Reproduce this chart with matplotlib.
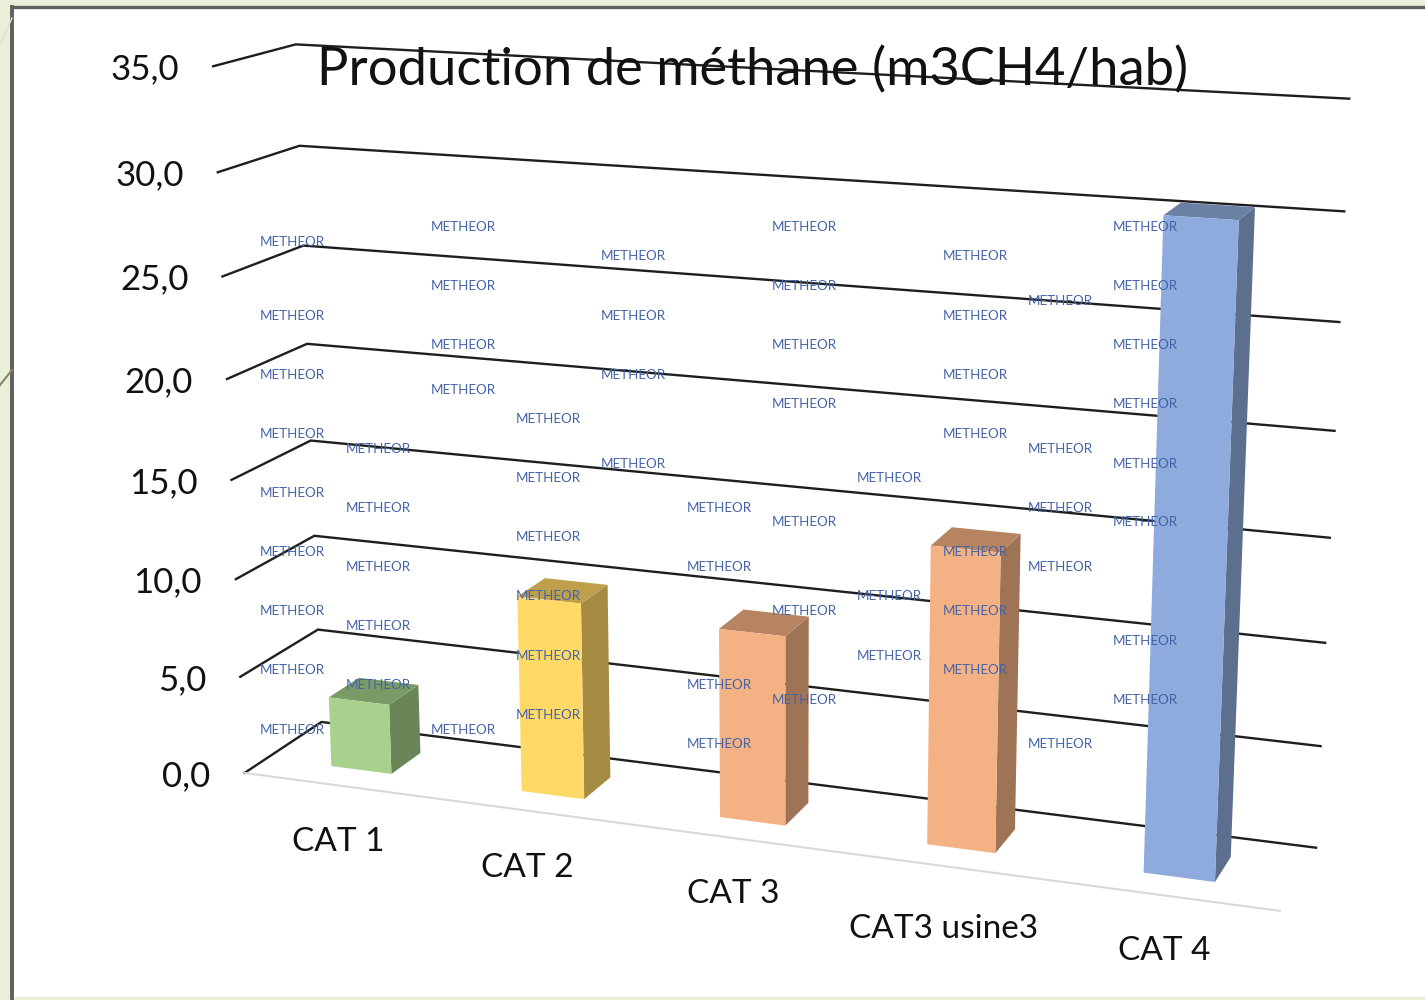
import numpy as np
import matplotlib
matplotlib.use("Agg")
import matplotlib.pyplot as plt
from matplotlib.patches import Polygon

plt.rcParams['font.family'] = ['Lato', 'DejaVu Sans']

title = "Production de méthane (m3CH4/hab)"
categories = ["CAT 1", "CAT 2", "CAT 3", "CAT3 usine3", "CAT 4"]
values = [3.6, 9.9, 9.4, 14.5, 30.4]
ticks = [0, 5, 10, 15, 20, 25, 30, 35]
tick_labels = ["0,0", "5,0", "10,0", "15,0", "20,0", "25,0", "30,0", "35,0"]

front_colors = ["#A9D18E", "#FFD966", "#F4B183", "#F4B183", "#8FAADC"]
side_colors = ["#6A8659", "#A68C42", "#9F7355", "#9F7355", "#5D6F8F"]
top_colors = ["#7A9A66", "#BF9F4C", "#B78461", "#B78461", "#6B80A5"]

# watermark: column x -> row y's
wm_x = [292, 378, 463, 548, 633, 719, 804, 889, 975, 1060, 1145]
wm_y = [
    [241, 315, 374, 433, 492, 551, 610, 669, 729],
    [448, 507, 566, 625, 684],
    [226, 285, 344, 389, 729],
    [418, 477, 536, 595, 655, 714],
    [255, 315, 374, 463],
    [507, 566, 684, 743],
    [226, 285, 344, 403, 521, 610, 699],
    [477, 595, 655],
    [255, 315, 374, 433, 551, 610, 669],
    [300, 448, 507, 566, 743],
    [226, 285, 344, 403, 463, 521, 640, 699],
]

# camera calibration (u along categories, d depth, v value) -> pixels
calib_world = np.array([
    [0, 0, 0], [1, 0, 0], [0, 0, 35], [0, 1, 0], [1, 1, 0], [0, 1, 35], [1, 1, 35],
    [0, 0, 15], [0, 1, 15], [1, 1, 15],
])
calib_px = np.array([
    [245, 772], [1280, 911], [213, 66], [321, 722], [1316, 848], [296, 44], [1349, 99],
    [231, 481], [311, 441], [1330, 537],
])

A, b = [], []
for (u, d, v), (x, y) in zip(calib_world, calib_px):
    A.append([u, d, v, 1, 0, 0, 0, 0, -x*u, -x*d, -x*v])
    A.append([0, 0, 0, 0, u, d, v, 1, -y*u, -y*d, -y*v])
    b += [x, y]
cam = np.linalg.lstsq(np.array(A, float), np.array(b, float), rcond=None)[0]
cam = np.append(cam, 1).reshape(3, 4)


def proj(u, d, v):
    p = cam @ np.array([u, d, v, 1.0])
    return p[0]/p[2], p[1]/p[2]


fig = plt.figure(figsize=(14.25, 10), dpi=100, facecolor="#E9EFD9")
ax = fig.add_axes([0, 0, 1, 1])
ax.set_xlim(0, 1425)
ax.set_ylim(1000, 0)
ax.axis("off")

# slide panel
ax.add_patch(Polygon([(12, 7), (1425, 7), (1425, 997), (12, 997)], fc="white", ec="none", zorder=0))
ax.plot([12, 12], [7, 1000], color="#5F5F5F", lw=2.8, zorder=1)
ax.plot([12, 1425], [7, 7], color="#5F5F5F", lw=2.4, zorder=1)
ax.plot([0, 12], [385, 370], color="#8C8468", lw=1.5, zorder=1)
ax.plot([0, 12], [45, 18], color="#DDE3CA", lw=1, zorder=1)

# gridlines
for t, lab in zip(ticks, tick_labels):
    pts = [proj(0, 0, t), proj(0, 1, t), proj(1, 1, t)]
    ax.plot(*zip(*pts), color="#1E1E1E", lw=1.7, zorder=2, solid_joinstyle="miter")
    x0, y0 = proj(0, 0, t)
    ax.text(x0-34, y0+3, lab, ha="right", va="center", fontsize=25, color="#111111", zorder=3)

# floor edge
ax.plot(*zip(proj(0, 0, 0), proj(1, 0, 0)), color="#D9D9D9", lw=1.5, zorder=2)

# bars
bar_w = 0.032
d0, d1 = 0.29, 0.69
for i, val in enumerate(values):
    c = (i+0.5)/len(values) + 0.001
    l, r = c-bar_w, c+bar_w
    ax.add_patch(Polygon([proj(r, d0, 0), proj(r, d1, 0), proj(r, d1, val), proj(r, d0, val)],
                         fc=side_colors[i], ec="none", zorder=4))
    ax.add_patch(Polygon([proj(l, d0, val), proj(r, d0, val), proj(r, d1, val), proj(l, d1, val)],
                         fc=top_colors[i], ec="none", zorder=4))
    ax.add_patch(Polygon([proj(l, d0, 0), proj(r, d0, 0), proj(r, d0, val), proj(l, d0, val)],
                         fc=front_colors[i], ec="none", zorder=5))

# category labels
cat_x = [338, 527, 733, 944, 1164]
cat_y = [842, 868, 894, 929, 951]
for x, y, lab in zip(cat_x, cat_y, categories):
    ax.text(x, y, lab, ha="center", va="center", fontsize=24, color="#111111", zorder=6)

ax.text(753, 70, title, ha="center", va="center", fontsize=37.8, color="#111111", zorder=6)

for x, col in zip(wm_x, wm_y):
    for y in col:
        ax.text(x, y+1, "METHEOR", ha="center", va="center", fontsize=9.6, color="#4463A8", zorder=7)

fig.savefig("out.png", dpi=100, facecolor=fig.get_facecolor())
